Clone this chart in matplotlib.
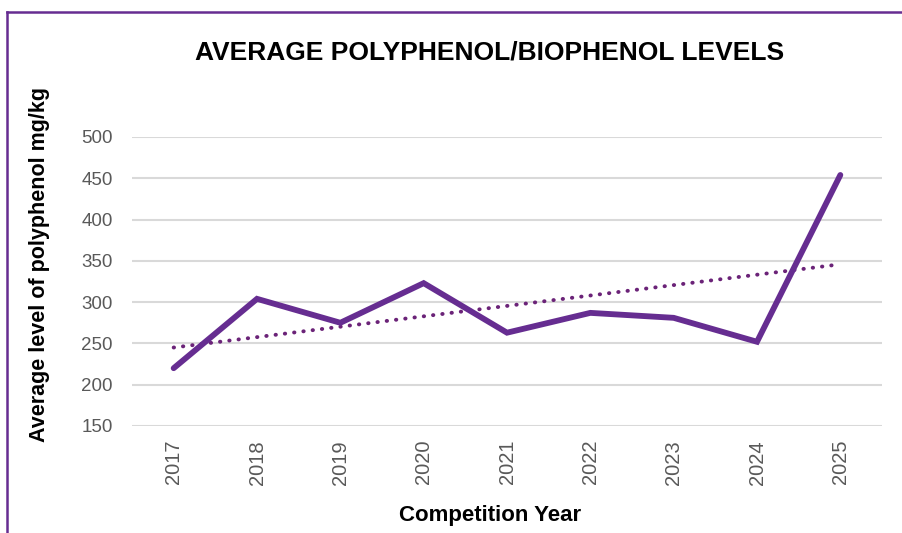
import numpy as np
import matplotlib.pyplot as plt
from matplotlib.lines import Line2D

# 数据
years = ['2017', '2018', '2019', '2020', '2021', '2022', '2023', '2024', '2025']
levels = [220, 304, 275, 323, 263, 287, 281, 252, 454]

purple = '#662D91'
trend_color = '#6B2378'
grey = '#595959'

plt.rcParams['font.family'] = ['Liberation Sans', 'DejaVu Sans']

fig = plt.figure(figsize=(9.02, 5.33), dpi=100)
ax = fig.add_axes([132 / 902, 1 - 426 / 533, 750 / 902, 289 / 533])

x = np.arange(len(years))
ax.plot(x, levels, color=purple, lw=4.2, solid_capstyle='round', solid_joinstyle='miter', zorder=3)

# 线性趋势线
k, b = np.polyfit(x, levels, 1)
ax.plot(x, k * x + b, color=trend_color, lw=2.8, linestyle=(0, (0.1, 2.3)),
        dash_capstyle='round', zorder=2)

ax.set_xlim(-0.5, len(years) - 0.5)
ax.set_ylim(150, 500)
ax.set_yticks(range(150, 501, 50))
ax.set_xticks(x)
ax.set_xticklabels(years, rotation=90)
ax.grid(axis='y', color='#D9D9D9', lw=1.5)
ax.set_axisbelow(True)
for s in ax.spines.values():
    s.set_visible(False)
ax.tick_params(length=0, colors=grey, labelsize=13.5)
ax.tick_params(axis='x', pad=10, labelsize=14.5)
ax.tick_params(axis='y', pad=14)

fig.text(490 / 902, 1 - 52 / 533, 'AVERAGE POLYPHENOL/BIOPHENOL LEVELS',
         ha='center', va='center', fontsize=19, fontweight='bold')
fig.text(40 / 902, 1 - 265 / 533, 'Average level of polyphenol mg/kg',
         ha='center', va='center', rotation=90, fontsize=15.5, fontweight='bold')
fig.text(490 / 902, 1 - 515 / 533, 'Competition Year',
         ha='center', va='center', fontsize=16, fontweight='bold')

# 紫色边框
fig.add_artist(Line2D([7.5 / 902, 7.5 / 902], [0, 1 - 11.5 / 533], color=purple, lw=1.8))
fig.add_artist(Line2D([7.5 / 902, 1], [1 - 11.5 / 533, 1 - 11.5 / 533], color=purple, lw=1.8))

plt.savefig('out.png')
